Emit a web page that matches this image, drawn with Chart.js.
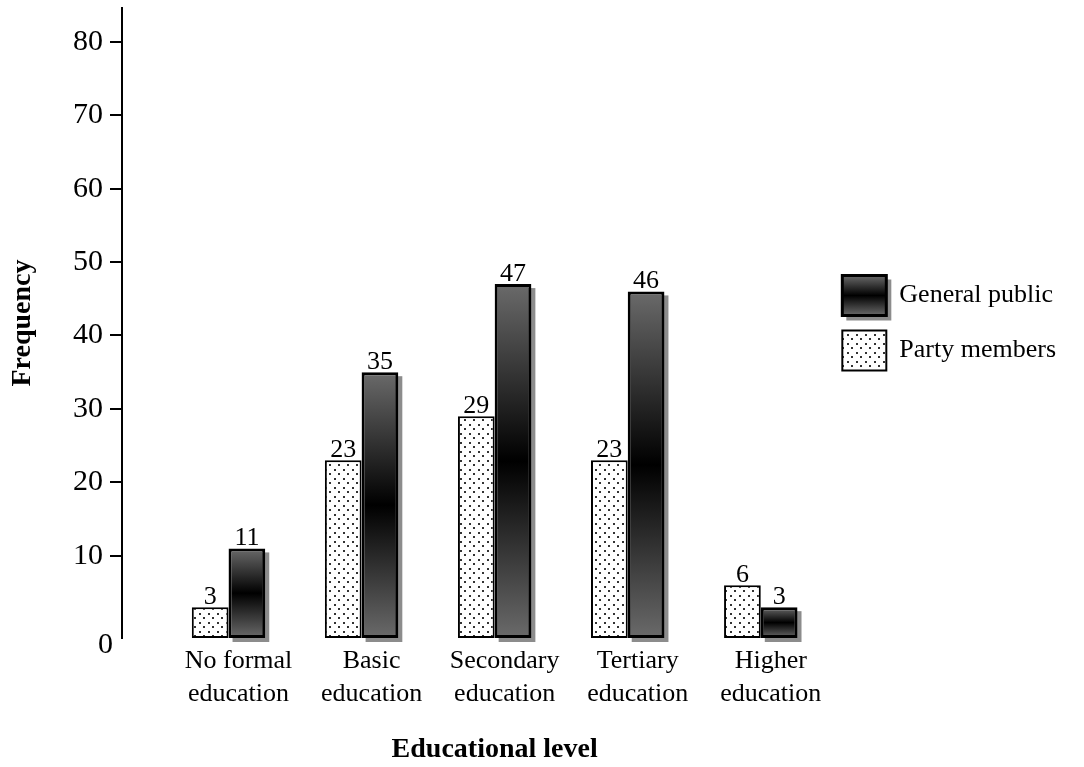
<!DOCTYPE html>
<html>
<head>
<meta charset="utf-8">
<script src="https://cdn.jsdelivr.net/npm/chart.js@4/dist/chart.umd.min.js"></script>
<style>
html,body{margin:0;padding:0;background:#fff;}
#wrap{width:1084px;height:767px;position:relative;}
</style>
</head>
<body>
<div id="wrap"><canvas id="c" width="1084" height="767"></canvas></div>
<script>
// ---- data ----
const categories = [
  ['No formal', 'education'],
  ['Basic', 'education'],
  ['Secondary', 'education'],
  ['Tertiary', 'education'],
  ['Higher', 'education']
];
const partyMembers = [3, 23, 29, 23, 6];
const generalPublic = [11, 35, 47, 46, 3];
const seriesNames = ['Party members', 'General public'];
const yTicks = [10, 20, 30, 40, 50, 60, 70, 80];
const zeroLabel = '0';
const xTitle = 'Educational level';
const yTitle = 'Frequency';

// ---- styling ----
const SERIF = "'Liberation Serif', 'Times New Roman', serif";
Chart.defaults.color = '#000';
Chart.defaults.font.family = SERIF;

const BASE = -1.2;
const Y_MAX = 84.6;
const GRAD_END = '#6a6a6a';
const SHADOW = '#8c8c8c';

const cnv = document.getElementById('c');
const ctx2d = cnv.getContext('2d');
const PARTY_FILL = (function () {
  const t = document.createElement('canvas');
  t.width = 9; t.height = 9;
  const g = t.getContext('2d');
  g.fillStyle = '#fff';
  g.fillRect(0, 0, 9, 9);
  g.fillStyle = '#333';
  g.fillRect(1, 1, 2, 2);
  g.fillRect(5, 5, 2, 2);
  return ctx2d.createPattern(t, 'repeat');
})();

function mirrorGradient(ctx, top, bottom) {
  const g = ctx.createLinearGradient(0, top, 0, bottom);
  g.addColorStop(0, GRAD_END);
  g.addColorStop(0.5, '#000');
  g.addColorStop(1, GRAD_END);
  return g;
}

const decorPlugin = {
  id: 'decor',
  beforeDraw(chart) {
    const ctx = chart.ctx;
    ctx.save();
    ctx.fillStyle = '#fff';
    ctx.fillRect(0, 0, chart.width, chart.height);
    const lg = chart.legend;
    if (lg && lg.legendItems) {
      const bw = lg.options.labels.boxWidth, bh = lg.options.labels.boxHeight;
      lg.legendItems.forEach((it, i) => {
        if (it.datasetIndex === 1) {
          const hb = lg.legendHitBoxes[i];
          ctx.fillStyle = SHADOW;
          ctx.fillRect(hb.left + 4, hb.top + 4, bw + 1, bh + 1);
          it.fillStyle = mirrorGradient(ctx, hb.top, hb.top + bh);
        }
      });
    }
    ctx.restore();
  },
  beforeDatasetsDraw(chart) {
    const ctx = chart.ctx;
    const meta = chart.getDatasetMeta(1);
    ctx.save();
    ctx.fillStyle = SHADOW;
    meta.data.forEach(el => {
      const p = el.getProps(['x', 'y', 'base', 'width'], true);
      ctx.fillRect(p.x - p.width / 2 + 4, p.y + 4, p.width, p.base - p.y);
    });
    ctx.restore();
  },
  afterDatasetsDraw(chart) {
    const ctx = chart.ctx;
    ctx.save();
    ctx.font = '26px ' + SERIF;
    ctx.fillStyle = '#000';
    ctx.textAlign = 'center';
    ctx.textBaseline = 'alphabetic';
    chart.data.datasets.forEach((ds, di) => {
      const meta = chart.getDatasetMeta(di);
      meta.data.forEach((el, i) => {
        ctx.fillText(String(ds.data[i]), el.x, el.y - 3);
      });
    });
    ctx.restore();
  },
  afterDraw(chart) {
    const ctx = chart.ctx;
    const ys = chart.scales.y;
    ctx.save();
    ctx.font = '30px ' + SERIF;
    ctx.fillStyle = '#000';
    ctx.textAlign = 'right';
    ctx.textBaseline = 'middle';
    ctx.fillText(zeroLabel, ys.right - 9, ys.getPixelForValue(0) + 16);
    ctx.restore();
  }
};

new Chart(cnv, {
  type: 'bar',
  data: {
    labels: categories,
    datasets: [
      {
        label: seriesNames[0],
        data: partyMembers,
        backgroundColor: PARTY_FILL,
        borderColor: '#000',
        borderWidth: 2,
        borderSkipped: false,
        base: BASE
      },
      {
        label: seriesNames[1],
        data: generalPublic,
        backgroundColor: (c) => {
          const ch = c.chart;
          if (c.type !== 'data' || !ch.chartArea) return '#333';
          const ys = ch.scales.y;
          return mirrorGradient(ch.ctx, ys.getPixelForValue(c.raw), ys.getPixelForValue(BASE));
        },
        borderColor: '#000',
        borderWidth: 3,
        borderSkipped: false,
        base: BASE
      }
    ]
  },
  options: {
    responsive: false,
    animation: false,
    devicePixelRatio: 1,
    layout: { padding: { top: 8, left: 0, right: 18, bottom: 0 } },
    datasets: { bar: { categoryPercentage: 0.552, barPercentage: 1 } },
    plugins: {
      legend: {
        position: 'right',
        fullSize: false,
        reverse: true,
        align: 'center',
        maxWidth: 260,
        labels: {
          boxWidth: 44,
          boxHeight: 40,
          padding: 15,
          color: '#000',
          font: { family: SERIF, size: 26 }
        }
      },
      tooltip: { enabled: false }
    },
    scales: {
      x: {
        type: 'category',
        offset: true,
        grid: { display: false, drawTicks: false },
        border: { display: false },
        ticks: {
          padding: 7,
          labelOffset: 10,
          maxRotation: 0,
          autoSkip: false,
          color: '#000',
          font: { family: SERIF, size: 26, lineHeight: 1.25 }
        },
        title: {
          display: true,
          text: xTitle,
          color: '#000',
          font: { family: SERIF, size: 28, weight: 'bold' },
          padding: { top: 0, bottom: 0 }
        },
        afterFit: s => { s.height = 129; s.paddingLeft = 0; s.paddingRight = 0; }
      },
      y: {
        type: 'linear',
        position: 'left',
        weight: 1,
        min: BASE,
        max: Y_MAX,
        afterBuildTicks: s => { s.ticks = yTicks.map(v => ({ value: v })); },
        ticks: { padding: 7, color: '#000', font: { family: SERIF, size: 30 } },
        grid: { drawOnChartArea: false, drawTicks: true, tickLength: 12, color: '#000', lineWidth: 2 },
        border: { display: true, color: '#000', width: 2 },
        title: {
          display: true,
          text: yTitle,
          color: '#000',
          font: { family: SERIF, size: 28, weight: 'bold' },
          padding: { top: 6, bottom: 0 }
        },
        afterFit: s => { s.width = 122; s.paddingTop = 0; s.paddingBottom = 0; }
      },
      gap: {
        type: 'linear',
        position: 'left',
        weight: 0,
        display: true,
        grid: { display: false },
        border: { display: false },
        ticks: { display: false },
        afterFit: s => { s.width = 40; s.paddingTop = 0; s.paddingBottom = 0; }
      }
    }
  },
  plugins: [decorPlugin]
});
</script>
</body>
</html>
